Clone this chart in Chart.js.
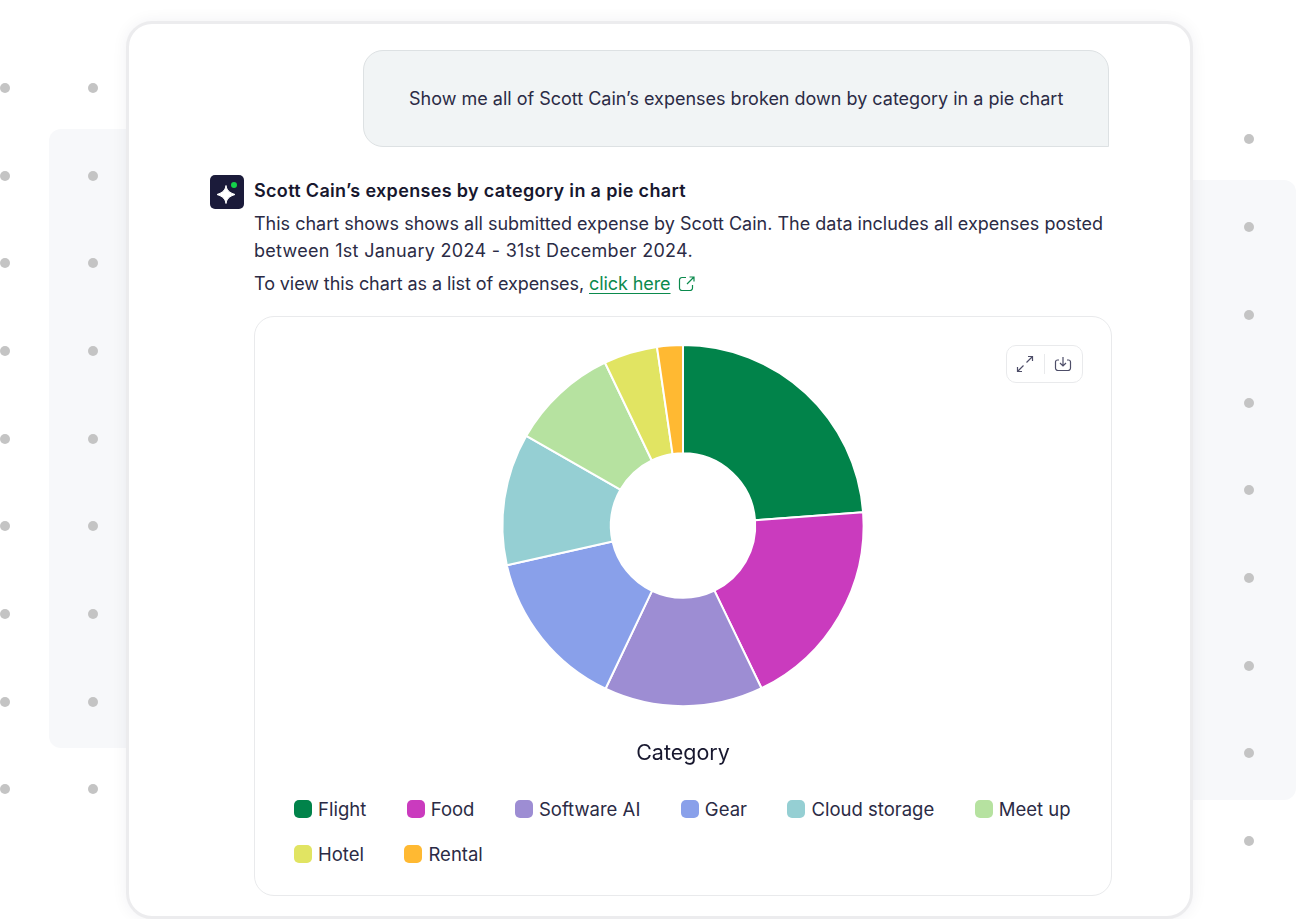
<!DOCTYPE html>
<html>
<head>
<meta charset="utf-8">
<title>Scott Cain's expenses</title>
<script src="https://cdn.jsdelivr.net/npm/chart.js@4/dist/chart.umd.min.js"></script>
<style>
    html, body { margin: 0; padding: 0; background: #fff; }
    body { position: relative; width: 1296px; height: 919px; overflow: hidden; font-family: Inter, sans-serif; color: #2b2b45; }
    .abs { position: absolute; }
    .panel { position: absolute; background: #f7f8fa; border-radius: 12px; }
    .dot { position: absolute; width: 10px; height: 10px; border-radius: 50%; background: #c4c4c4; }
    #card { left: 126px; top: 21px; width: 1061px; height: 892px; background: #fff; border: 3px solid #ececee; border-radius: 26px; box-shadow: 0 0 16px rgba(30,30,60,0.06); }
    #bubble { left: 363px; top: 50px; width: 744px; height: 95px; background: #f1f4f5; border: 1px solid #dde1e3; border-radius: 20px 20px 0 20px; }
    .line { position: absolute; white-space: nowrap; font-size: 18px; line-height: 24px; }
    #chartCard { left: 254px; top: 316px; width: 856px; height: 578px; border: 1px solid #e9eaec; border-radius: 20px; background: #fff; }
    #chartBox { position: absolute; left: 0; top: 0; width: 856px; height: 459px; }
    #tools { right: 28px; top: 28px; width: 75px; height: 36px; border: 1px solid #e9eaec; border-radius: 10px; background: #fff; }
    #legend { position: absolute; left: 39px; top: 480px; width: 800px; display: flex; flex-wrap: wrap; column-gap: 40.5px; row-gap: 21px; }
    .item { display: flex; align-items: center; height: 24px; font-size: 18.5px; white-space: nowrap; }
    .swatch { width: 18px; height: 18px; border-radius: 5px; margin-right: 6px; }
</style>
</head>
<body>
<div class="panel" style="left:49px;top:129px;width:90px;height:619px"></div>
<div class="panel" style="left:1180px;top:180px;width:116px;height:620px"></div>
<div id="dots"></div>

<div id="card" class="abs"></div>
<div id="bubble" class="abs"></div>
<div class="line" style="left:409px;top:87px">Show me all of Scott Cain’s expenses broken down by category in a pie chart</div>

<svg class="abs" style="left:210px;top:175px" width="34" height="34" viewBox="0 0 34 34">
    <rect width="34" height="34" rx="5" fill="#1b1b3a"/>
    <path d="M16 10.500 C16.800 15 19 17.500 25 19.500 C19 21.500 16.800 24 16 28.500 C15.200 24 13 21.500 7 19.500 C13 17.500 15.200 15 16 10.500Z" fill="#fff" stroke="#fff"/>
    <circle cx="24" cy="10" r="3" fill="#14d24a"/>
</svg>
<div class="line" style="left:254px;top:179px;font-weight:600;color:#17172e;letter-spacing:0.33px">Scott Cain’s expenses by category in a pie chart</div>
<div class="line" style="left:254px;top:212px">This chart shows shows all submitted expense by Scott Cain. The data includes all expenses posted</div>
<div class="line" style="left:254px;top:239px;letter-spacing:0.3px">between 1st January 2024 - 31st December 2024.</div>
<div class="line" style="left:254px;top:272px;letter-spacing:-0.08px">To view this chart as a list of expenses, <span style="color:#0b8a4d;text-decoration:underline;text-underline-offset:3px">click here</span></div>
<svg class="abs" style="left:678px;top:275px" width="18" height="18" viewBox="0 0 18 18" fill="none" stroke="#0b8a4d" stroke-width="1.200">
    <path d="M8 2.500H4a2.500 2.500 0 0 0-2.500 2.500v8a2.500 2.500 0 0 0 2.500 2.500h8a2.500 2.500 0 0 0 2.500-2.500V10"/>
    <path d="M9 9L16 2M11.500 2H16V6.500"/>
</svg>

<div id="chartCard" class="abs">
    <div id="chartBox"><canvas id="pie"></canvas></div>
    <div id="tools" class="abs">
        <svg class="abs" style="left:9px;top:9px" width="18" height="18" viewBox="0 0 18 18" fill="none" stroke="#4d4d68" stroke-width="1.200">
            <path d="M10.500 7.500L16.500 1.500M12 1.500H16.500V6M7.500 10.500L1.500 16.500M1.500 12V16.500H6"/>
        </svg>
        <div class="abs" style="left:37px;top:8px;width:1px;height:20px;background:#e9eaec"></div>
        <svg class="abs" style="left:47px;top:9px" width="18" height="18" viewBox="0 0 18 18" fill="none" stroke="#4d4d68" stroke-width="1.200">
            <path d="M5 5H3.500a2 2 0 0 0-2 2v6a2.500 2.500 0 0 0 2.500 2.500h10a2.500 2.500 0 0 0 2.500-2.500V7a2 2 0 0 0-2-2H13"/>
            <path d="M9 2v8.500M6 8l3 3 3-3"/>
        </svg>
    </div>
    <div id="legend"></div>
</div>

<script>
    const categories = ['Flight', 'Food', 'Software AI', 'Gear', 'Cloud storage', 'Meet up', 'Hotel', 'Rental'];
    const shares = [23.8, 19, 14.2, 14.4, 11.8, 9.6, 4.8, 2.3];
    const sliceColors = ['#01834a', '#ca3bbe', '#9d8dd3', '#89a0ea', '#95cfd3', '#b6e2a0', '#e1e462', '#ffb932'];
    const axisTitle = 'Category';

    const leftDots = [88, 175.500, 263, 351, 438.500, 526, 614, 701.500, 789];
    const rightDots = [139, 227, 315, 402.500, 490, 578, 665.500, 753, 841];

    // background dot grid
    const dots = document.getElementById('dots');
    function addDot(cx, cy) {
        const d = document.createElement('div');
        d.className = 'dot';
        d.style.left = (cx - 5) + 'px';
        d.style.top = (cy - 5) + 'px';
        dots.appendChild(d);
    }
    leftDots.forEach(y => { addDot(5, y); addDot(92.500, y); });
    rightDots.forEach(y => addDot(1249, y));

    // legend
    const legend = document.getElementById('legend');
    categories.forEach((name, i) => {
        const item = document.createElement('div');
        item.className = 'item';
        item.innerHTML = `<span class="swatch" style="background:${sliceColors[i]}"></span>${name}`;
        legend.appendChild(item);
    });

    new Chart(document.getElementById('pie'), {
        type: 'doughnut',
        data: {
            labels: categories,
            datasets: [{
                data: shares,
                backgroundColor: sliceColors,
                borderColor: '#fff',
                borderWidth: 2
            }]
        },
        options: {
            responsive: true,
            maintainAspectRatio: false,
            animation: false,
            cutout: '40%',
            layout: { padding: { top: 27 } },
            plugins: {
                legend: { display: false },
                tooltip: { enabled: false },
                title: {
                    display: true,
                    text: axisTitle,
                    position: 'bottom',
                    color: '#17172e',
                    font: { family: 'Inter', size: 21.500, weight: 'normal' },
                    padding: { top: 33, bottom: 10 }
                }
            }
        }
    });
</script>
</body>
</html>
